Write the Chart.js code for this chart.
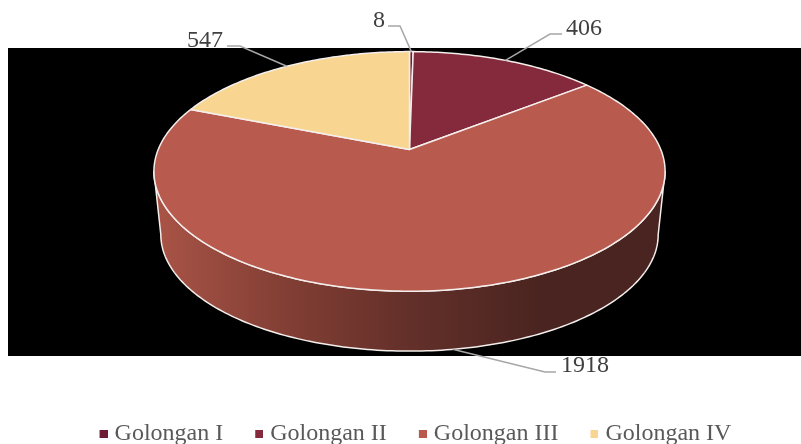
<!DOCTYPE html>
<html>
<head>
<meta charset="utf-8">
<style>
  html, body { margin: 0; padding: 0; background: #fff; overflow: hidden; }
  canvas { display: block; }
</style>
</head>
<body>
<canvas id="chart" width="801" height="444"></canvas>
<script src="https://cdn.jsdelivr.net/npm/chart.js@4/dist/chart.umd.js"></script>
<script>
const categories = ['Golongan I', 'Golongan II', 'Golongan III', 'Golongan IV'];
const counts = [8, 406, 1918, 547];
const sliceColors = ['#6e1c33', '#85293c', '#b95a4f', '#f8d590'];

// leader line elbow, leader line end, label left, label baseline (px)
const leaders = [
  [400, 26, 388, 373, 27],
  [550, 34, 562, 566, 35],
  [545, 372, 556, 561, 372],
  [240, 46, 227, 187, 47],
];

const SERIF = '"Liberation Serif", "Times New Roman", serif';

// perspective of the tilted disc, as fractions of the library's outer radius
const TILT = 0.183;
const WIDTH = 251.7 / 149;
const DEPTH = 116 / 149;
// bottom rim of the disc relative to the top rim
const RIM_SCALE = 0.973;
const RIM_DROP = 63.8 / 149;

function project(arc, angle, rim) {
  const r = arc.outerRadius;
  const w = 1 - TILT * Math.sin(angle);
  const scale = rim ? RIM_SCALE : 1;
  return {
    x: arc.x + (WIDTH * r * Math.cos(angle) / w) * scale,
    y: arc.y + (DEPTH * r * Math.sin(angle) / w) * scale + (rim ? RIM_DROP * r : 0),
  };
}

function traceRim(ctx, arc, from, to, rim) {
  const steps = Math.max(2, Math.ceil(Math.abs(to - from) * 60));
  for (let i = 0; i <= steps; i++) {
    const p = project(arc, from + (to - from) * i / steps, rim);
    ctx.lineTo(p.x, p.y);
  }
}

class Arc3D extends Chart.ArcElement {
  static id = 'arc3d';

  draw(ctx) {
    const o = this.options;
    ctx.save();
    ctx.lineJoin = 'round';
    ctx.strokeStyle = o.borderColor;
    ctx.lineWidth = o.borderWidth;

    // wall of the disc, only the part that faces the viewer
    const right = Math.asin(TILT);
    const from = Math.max(this.startAngle, right);
    const to = Math.min(this.endAngle, Math.PI - right);
    if (from < to) {
      const g = ctx.createLinearGradient(this.x - 250, 0, this.x + 130, 0);
      g.addColorStop(0, '#a85346');
      g.addColorStop(0.36, '#7f3d33');
      g.addColorStop(0.65, '#64302a');
      g.addColorStop(1, '#4a2420');
      ctx.beginPath();
      traceRim(ctx, this, from, to, false);
      traceRim(ctx, this, to, from, true);
      ctx.closePath();
      ctx.fillStyle = g;
      ctx.fill();
      ctx.stroke();
    }

    // top face
    ctx.beginPath();
    ctx.moveTo(this.x, this.y);
    traceRim(ctx, this, this.startAngle, this.endAngle, false);
    ctx.closePath();
    ctx.fillStyle = o.backgroundColor;
    ctx.fill();
    ctx.stroke();
    ctx.restore();
  }
}

class Pie3DController extends Chart.PieController {
  static id = 'pie3d';
  static defaults = { dataElementType: 'arc3d' };
}

Chart.register(Arc3D, Pie3DController);

function legendMarker(color) {
  const c = document.createElement('canvas');
  c.width = 11;
  c.height = 8;
  const g = c.getContext('2d');
  g.fillStyle = color;
  g.fillRect(3, 0, 8, 8);
  return c;
}

const backdrop = {
  id: 'backdrop',
  beforeDraw(chart) {
    chart.ctx.fillStyle = '#000';
    chart.ctx.fillRect(8, 48, 793, 308);
  },
};

const legendPlacement = {
  id: 'legendPlacement',
  afterLayout(chart) {
    const legend = chart.legend;
    const shift = 388 - legend.top;
    legend.top += shift;
    legend.bottom += shift;
    legend.left += 7;
    legend.right += 7;
  },
};

const leaderLabels = {
  id: 'leaderLabels',
  afterDatasetsDraw(chart) {
    const ctx = chart.ctx;
    const arcs = chart.getDatasetMeta(0).data;
    ctx.save();
    arcs.forEach((arc, i) => {
      const mid = (arc.startAngle + arc.endAngle) / 2;
      const start = project(arc, mid, Math.sin(mid) > 0);
      const [ex, ey, tx, lx, ly] = leaders[i];
      ctx.beginPath();
      ctx.moveTo(start.x, start.y);
      ctx.lineTo(ex, ey);
      ctx.lineTo(tx, ey);
      ctx.strokeStyle = '#a6a6a6';
      ctx.lineWidth = 1.5;
      ctx.stroke();
      ctx.fillStyle = '#404040';
      ctx.font = '24px ' + SERIF;
      ctx.textAlign = 'left';
      ctx.textBaseline = 'alphabetic';
      ctx.fillText(String(counts[i]), lx, ly);
    });
    ctx.restore();
  },
};

new Chart(document.getElementById('chart'), {
  type: 'pie3d',
  data: {
    labels: categories,
    datasets: [{
      data: counts,
      backgroundColor: sliceColors,
      borderColor: '#f4efec',
      borderWidth: 1.5,
    }],
  },
  plugins: [backdrop, legendPlacement, leaderLabels],
  options: {
    responsive: false,
    animation: false,
    events: [],
    layout: { padding: { left: 18, bottom: 77 } },
    plugins: {
      title: { display: false },
      tooltip: { enabled: false },
      legend: {
        display: true,
        position: 'bottom',
        labels: {
          color: '#595959',
          font: { family: SERIF, size: 24 },
          padding: 34,
          usePointStyle: true,
          pointStyleWidth: 1,
          generateLabels(chart) {
            return Chart.overrides.doughnut.plugins.legend.labels.generateLabels(chart)
              .map((item) => ({ ...item, pointStyle: legendMarker(item.fillStyle) }));
          },
        },
      },
    },
  },
});
</script>
</body>
</html>
